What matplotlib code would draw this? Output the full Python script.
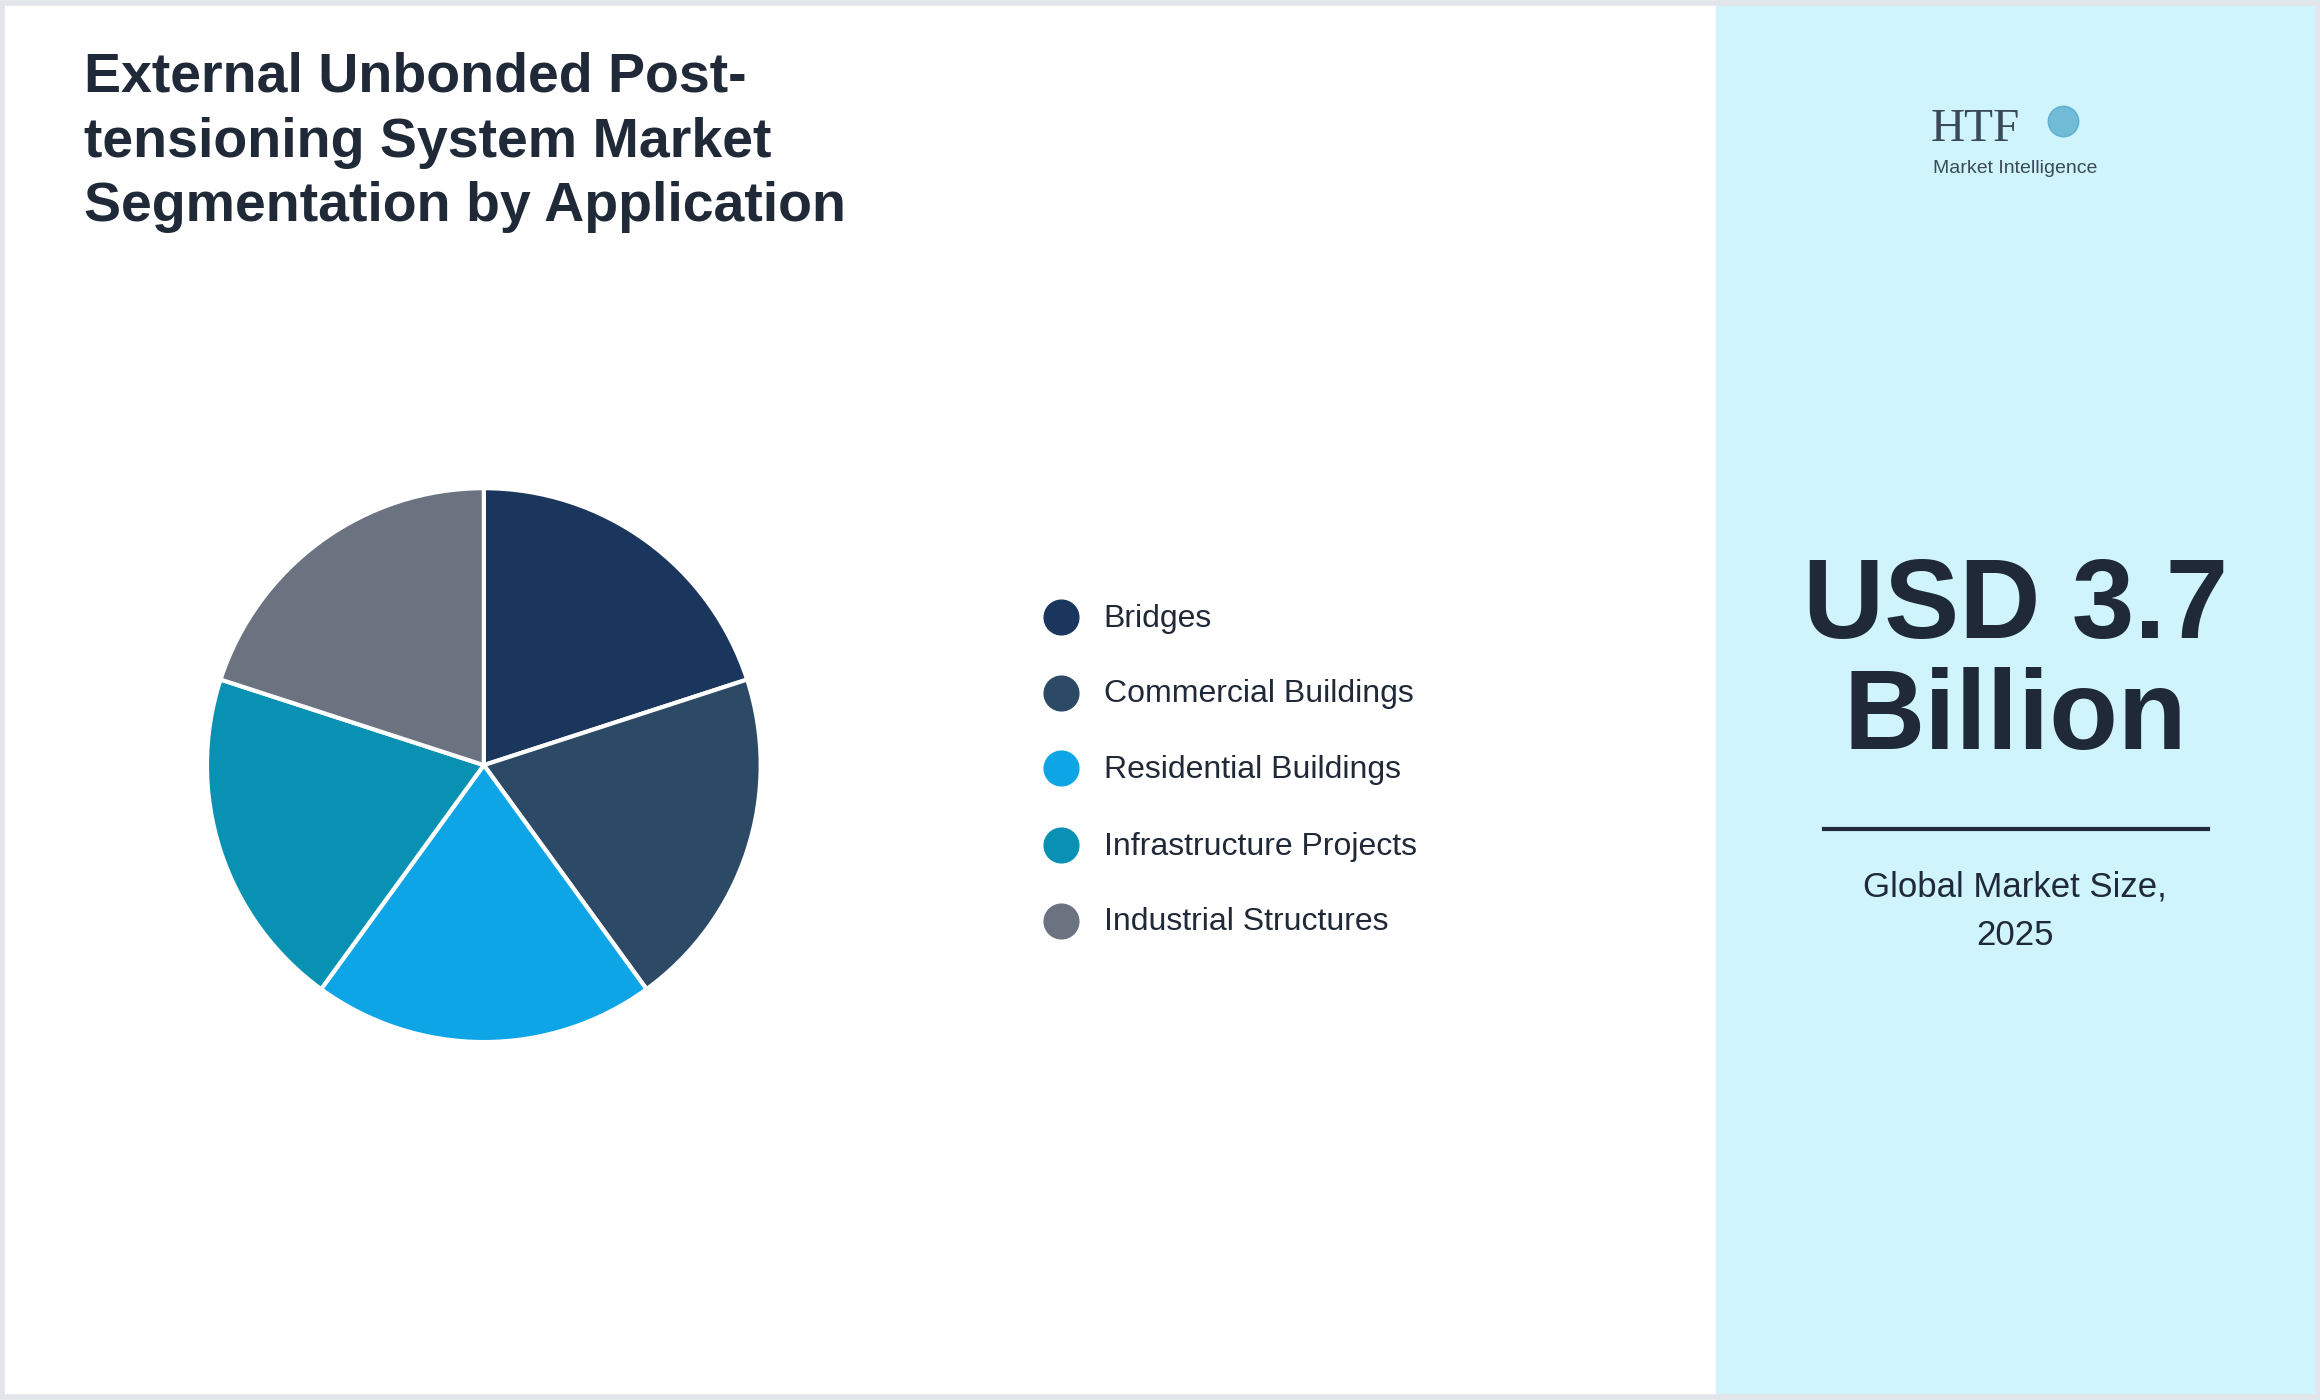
import matplotlib
matplotlib.use("Agg")
import matplotlib.pyplot as plt
from matplotlib.patches import Rectangle
from matplotlib.lines import Line2D

plt.rcParams['font.family'] = ['Liberation Sans', 'DejaVu Sans']

categories = ["Bridges", "Commercial Buildings", "Residential Buildings",
              "Infrastructure Projects", "Industrial Structures"]
shares = [20, 20, 20, 20, 20]
colors = ["#1b365d", "#2c4a66", "#0ea5e6", "#0891b2", "#6b7280"]
title = "External Unbonded Post-\ntensioning System Market\nSegmentation by Application"
big_value = "USD 3.7\nBillion"
sub_label = "Global Market Size,\n2025"

W, H = 1568, 946
fig = plt.figure(figsize=(23.2, 14.0), dpi=100)
fig.patch.set_facecolor("white")

def fx(x): return x / W
def fy(y): return 1 - y / H

fig.add_artist(Rectangle((fx(1160), 0), 1 - fx(1160), 1, transform=fig.transFigure,
                         facecolor="#cff4fc", edgecolor="none", zorder=0))
fig.add_artist(Rectangle((0.001, 0.002), 0.998, 0.996, transform=fig.transFigure,
                         facecolor="none", edgecolor="#e2e5e9", lw=4, zorder=5))

fig.text(fx(57), fy(35), title, fontsize=40, fontweight="bold", color="#1f2937",
         va="top", ha="left", linespacing=1.32)

# pie
r = 189
ax = fig.add_axes([fx(327 - r), fy(517 + r), 2 * r / W, 2 * r / H])
ax.pie(shares, colors=colors, startangle=90, counterclock=False,
       wedgeprops=dict(edgecolor="white", linewidth=3))
ax.set_xlim(-1.01, 1.01)
ax.set_ylim(-1.01, 1.01)
ax.set_aspect("auto")

ys = [417, 468, 519, 571, 622]
for name, c, y in zip(categories, colors, ys):
    fig.lines.append(Line2D([fx(717)], [fy(y)], marker="o", markersize=25,
                            color=c, transform=fig.transFigure))
    fig.text(fx(746), fy(y + 1), name, fontsize=23, color="#1f2937", va="center", ha="left")

# logo
fig.text(fx(1335), fy(88), "HTF", fontsize=34, family="Liberation Serif", color="#3a4a5a",
         ha="center", va="center")
fig.text(fx(1362), fy(114), "Market Intelligence", fontsize=14, color="#3a4a5a",
         ha="center", va="center")
fig.lines.append(Line2D([fx(1394)], [fy(82)], marker="o", markersize=22, color="#4aa3c8",
                        alpha=0.7, transform=fig.transFigure))

fig.text(fx(1362), fy(449), big_value, fontsize=81, fontweight="bold", color="#1f2937",
         ha="center", va="center", linespacing=1.07)
fig.lines.append(Line2D([fx(1233), fx(1492)], [fy(560), fy(560)], color="#1f2937", lw=3,
                        transform=fig.transFigure))
fig.text(fx(1362), fy(616), sub_label, fontsize=25, color="#1f2937",
         ha="center", va="center", linespacing=1.6)

fig.savefig("out.png", dpi=100, facecolor="white")
